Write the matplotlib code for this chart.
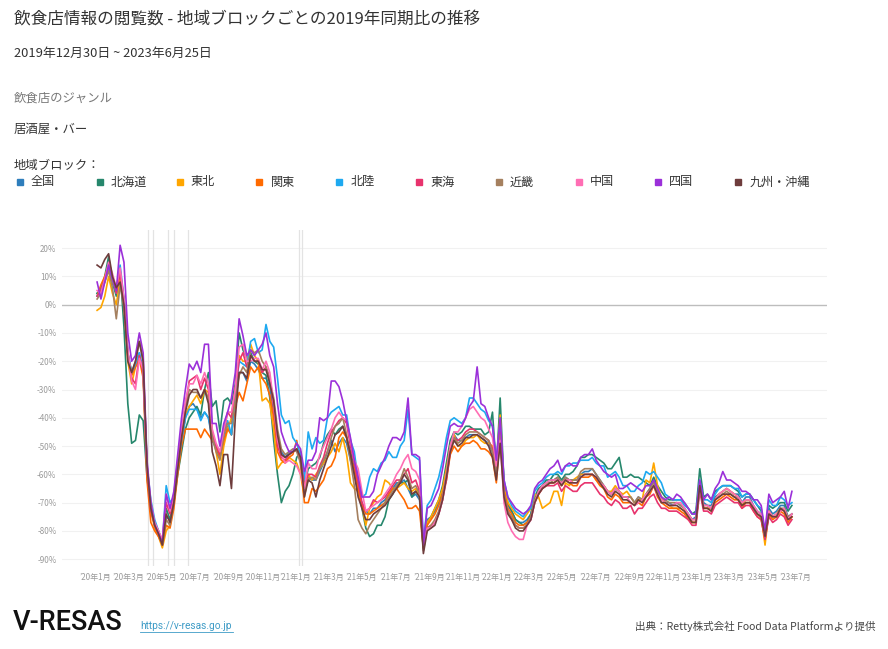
import numpy as np
import pandas as pd
import matplotlib
matplotlib.use('Agg')
import matplotlib.pyplot as plt
import matplotlib.dates as mdates
from matplotlib.patches import Rectangle

plt.rcParams['font.family'] = ['Noto Sans CJK JP', 'DejaVu Sans']

# weekly points (week ending dates), 2019-12-30 ~ 2023-06-25
weeks = pd.date_range('2020-01-05', periods=182, freq='7D')

regions = ['全国', '北海道', '東北', '関東', '北陸', '東海', '近畿', '中国', '四国', '九州・沖縄']
colors = ['#2e7ebc', '#26876c', '#ffa600', '#ff6a00', '#1ea9f0',
          '#e8336d', '#a5805f', '#ff6eb4', '#9b30d9', '#6e3c3c']

zenkoku = [4, 6, 9, 14, 8, 4, 11, 1, -17, -24,
           -21, -17, -25, -58, -72, -78, -81, -85, -75, -76,
           -69, -58, -49, -40, -36, -35, -37, -40, -38, -40,
           -48, -51, -54, -48, -43, -46, -34, -24, -24, -27,
           -20, -21, -23, -26, -26, -29, -38, -49, -52, -54,
           -52, -52, -51, -55, -66, -61, -62, -62, -59, -56,
           -52, -48, -52, -49, -47, -49, -55, -60, -66, -70,
           -73, -74, -72, -72, -70, -69, -67, -65, -63, -63,
           -62, -65, -68, -67, -69, -86, -76, -75, -73, -70,
           -66, -60, -50, -46, -48, -48, -47, -46, -46, -46,
           -47, -48, -49, -52, -59, -43, -65, -71, -73, -76,
           -77, -77, -76, -74, -68, -66, -64, -63, -62, -62,
           -61, -63, -61, -62, -62, -62, -60, -59, -59, -58,
           -60, -62, -64, -66, -67, -65, -66, -68, -68, -68,
           -70, -68, -69, -67, -65, -62, -66, -68, -70, -70,
           -71, -70, -71, -72, -74, -76, -75, -63, -70, -71,
           -71, -68, -67, -66, -65, -66, -67, -67, -70, -68,
           -68, -71, -73, -74, -82, -72, -74, -73, -71, -71,
           -75, -74]

hokkaido = [4, 5, 10, 17, 8, 3, 12, -8, -35, -49,
            -48, -39, -41, -61, -72, -77, -80, -84, -72, -76,
            -70, -60, -52, -44, -40, -38, -36, -39, -30, -24,
            -36, -34, -45, -34, -33, -35, -28, -10, -16, -19,
            -17, -20, -21, -24, -25, -33, -48, -60, -70, -66,
            -64, -60, -54, -52, -64, -58, -57, -56, -54, -49,
            -46, -44, -46, -44, -43, -47, -52, -58, -66, -72,
            -79, -82, -81, -78, -78, -75, -69, -67, -64, -63,
            -63, -62, -68, -66, -65, -86, -77, -75, -72, -69,
            -64, -56, -48, -45, -46, -45, -43, -43, -44, -44,
            -44, -46, -45, -38, -58, -33, -63, -70, -73, -76,
            -77, -78, -77, -74, -68, -65, -64, -62, -62, -60,
            -60, -62, -60, -60, -59, -57, -54, -54, -53, -53,
            -54, -55, -56, -58, -58, -56, -54, -61, -61, -60,
            -61, -61, -62, -63, -64, -61, -64, -66, -68, -69,
            -69, -69, -69, -70, -72, -74, -73, -58, -68, -67,
            -69, -66, -65, -64, -64, -64, -65, -66, -68, -67,
            -67, -69, -71, -73, -81, -71, -72, -71, -70, -70,
            -73, -71]

tohoku = [-2, -1, 3, 10, 4, 0, 9, 0, -20, -28,
          -22, -19, -24, -58, -73, -79, -82, -86, -80, -78,
          -70, -58, -48, -39, -36, -34, -32, -35, -30, -31,
          -45, -52, -60, -50, -44, -40, -30, -18, -20, -20,
          -14, -18, -20, -34, -33, -35, -44, -58, -56, -55,
          -54, -55, -56, -60, -68, -60, -62, -60, -58, -56,
          -54, -52, -49, -52, -47, -53, -63, -65, -66, -71,
          -78, -72, -70, -68, -67, -62, -63, -65, -65, -64,
          -63, -65, -66, -65, -68, -86, -77, -75, -72, -69,
          -65, -58, -50, -46, -50, -50, -48, -47, -47, -46,
          -48, -49, -49, -50, -57, -39, -64, -70, -72, -74,
          -75, -76, -74, -72, -67, -68, -72, -71, -70, -66,
          -66, -71, -63, -64, -62, -61, -60, -60, -60, -60,
          -62, -63, -64, -66, -66, -64, -66, -67, -66, -68,
          -70, -69, -69, -62, -63, -56, -64, -68, -70, -71,
          -72, -72, -72, -73, -75, -77, -77, -63, -72, -72,
          -72, -69, -67, -66, -65, -66, -67, -68, -71, -69,
          -69, -72, -74, -75, -85, -73, -75, -74, -72, -73,
          -76, -75]

kanto = [3, 7, 10, 14, 8, 5, 12, 2, -18, -25,
         -22, -19, -26, -62, -77, -80, -82, -85, -78, -79,
         -72, -60, -50, -44, -44, -44, -44, -47, -44, -46,
         -48, -50, -54, -48, -44, -46, -36, -31, -34, -28,
         -22, -24, -22, -26, -28, -32, -40, -52, -55, -56,
         -54, -53, -48, -56, -70, -70, -65, -66, -64, -62,
         -58, -57, -54, -47, -45, -47, -54, -58, -65, -71,
         -74, -74, -73, -72, -71, -70, -67, -65, -65, -67,
         -69, -72, -72, -71, -73, -86, -78, -76, -74, -71,
         -67, -62, -53, -50, -52, -50, -49, -49, -48, -49,
         -51, -51, -52, -54, -63, -46, -66, -72, -74, -77,
         -78, -78, -77, -75, -70, -67, -65, -64, -63, -63,
         -62, -64, -62, -63, -64, -64, -61, -61, -61, -60,
         -62, -64, -65, -68, -69, -67, -68, -70, -70, -70,
         -71, -70, -71, -68, -67, -64, -68, -70, -71, -72,
         -72, -72, -73, -74, -76, -77, -77, -64, -72, -72,
         -73, -70, -69, -68, -67, -68, -69, -69, -72, -70,
         -70, -73, -75, -76, -83, -74, -76, -75, -73, -74,
         -77, -75]

hokuriku = [3, 5, 8, 13, 9, 4, 14, 2, -17, -24,
            -21, -17, -23, -57, -69, -76, -80, -84, -64, -70,
            -68, -57, -48, -40, -37, -37, -37, -41, -38, -40,
            -46, -50, -52, -46, -41, -46, -32, -20, -21, -22,
            -13, -12, -17, -16, -7, -13, -15, -26, -39, -42,
            -41, -47, -49, -53, -62, -45, -51, -47, -49, -48,
            -40, -38, -37, -36, -39, -39, -48, -52, -62, -68,
            -67, -61, -58, -59, -56, -55, -52, -54, -54, -50,
            -48, -37, -53, -54, -55, -84, -71, -69, -65, -61,
            -55, -47, -41, -40, -41, -42, -40, -33, -33, -35,
            -37, -38, -41, -43, -55, -42, -62, -68, -71, -73,
            -74, -75, -73, -72, -66, -64, -63, -61, -60, -60,
            -59, -60, -57, -57, -56, -56, -55, -55, -55, -54,
            -56, -57, -57, -61, -60, -59, -61, -64, -64, -66,
            -66, -64, -63, -59, -60, -59, -61, -63, -67, -68,
            -69, -69, -69, -71, -72, -74, -74, -62, -69, -69,
            -70, -67, -65, -64, -64, -64, -65, -65, -68, -67,
            -67, -69, -71, -72, -81, -69, -71, -71, -68, -69,
            -71, -70]

tokai = [3, 5, 9, 14, 10, 4, 12, 1, -17, -26,
         -28, -18, -24, -58, -73, -78, -81, -84, -70, -74,
         -68, -56, -46, -36, -27, -26, -25, -30, -26, -30,
         -45, -50, -53, -45, -38, -40, -30, -20, -17, -22,
         -18, -20, -20, -24, -22, -26, -36, -50, -54, -55,
         -53, -52, -51, -55, -64, -60, -60, -61, -57, -54,
         -49, -45, -43, -41, -40, -42, -50, -56, -63, -70,
         -73, -72, -69, -70, -69, -68, -66, -64, -62, -62,
         -60, -58, -63, -62, -66, -85, -79, -78, -77, -74,
         -69, -62, -52, -47, -48, -47, -45, -44, -44, -45,
         -46, -47, -48, -51, -60, -45, -67, -73, -76, -78,
         -79, -79, -78, -76, -70, -67, -65, -64, -64, -64,
         -63, -66, -64, -65, -66, -66, -64, -63, -63, -63,
         -65, -67, -68, -70, -71, -69, -70, -72, -72, -71,
         -74, -72, -72, -70, -68, -67, -70, -72, -72, -73,
         -73, -73, -74, -75, -76, -78, -78, -66, -73, -73,
         -74, -71, -70, -69, -68, -69, -70, -70, -72, -71,
         -71, -73, -75, -76, -83, -75, -77, -76, -74, -75,
         -78, -76]

kinki = [2, 4, 8, 12, 6, -5, 7, -1, -18, -24,
         -20, -13, -20, -56, -72, -78, -81, -85, -76, -78,
         -70, -58, -47, -37, -30, -31, -31, -33, -30, -33,
         -47, -52, -55, -46, -42, -42, -34, -25, -22, -24,
         -16, -17, -16, -20, -22, -27, -33, -44, -51, -53,
         -52, -51, -52, -56, -66, -62, -61, -62, -58, -55,
         -52, -47, -43, -42, -40, -46, -55, -64, -76, -79,
         -81, -78, -76, -74, -72, -70, -68, -66, -64, -62,
         -58, -61, -65, -64, -67, -87, -79, -78, -76, -73,
         -68, -60, -50, -47, -49, -48, -46, -45, -45, -45,
         -46, -47, -48, -52, -60, -46, -67, -73, -75, -78,
         -79, -79, -78, -75, -69, -66, -64, -63, -63, -62,
         -61, -63, -61, -62, -62, -62, -59, -58, -58, -58,
         -60, -62, -64, -66, -67, -65, -66, -68, -68, -68,
         -70, -68, -69, -67, -65, -63, -66, -68, -69, -70,
         -70, -70, -71, -72, -74, -76, -76, -64, -71, -71,
         -72, -69, -68, -67, -66, -67, -68, -68, -70, -69,
         -69, -72, -74, -75, -82, -73, -75, -74, -72, -72,
         -75, -74]

chugoku = [5, 4, 9, 15, 11, 6, 13, 2, -16, -27,
           -30, -19, -23, -57, -70, -77, -80, -83, -67, -73,
           -67, -55, -44, -34, -28, -28, -25, -28, -24, -28,
           -44, -49, -52, -44, -38, -38, -30, -15, -14, -20,
           -20, -19, -19, -23, -20, -24, -35, -48, -53, -56,
           -55, -56, -57, -60, -65, -56, -58, -58, -53, -50,
           -47, -44, -40, -38, -40, -41, -48, -55, -58, -66,
           -73, -72, -71, -70, -69, -67, -65, -63, -60, -58,
           -55, -53, -58, -59, -62, -85, -79, -79, -77, -74,
           -69, -60, -50, -45, -45, -43, -40, -37, -36, -38,
           -40, -41, -44, -47, -57, -48, -70, -77, -80, -82,
           -83, -83, -78, -76, -70, -66, -64, -63, -62, -62,
           -62, -63, -62, -62, -63, -63, -61, -60, -60, -60,
           -61, -63, -64, -66, -67, -65, -66, -68, -68, -70,
           -71, -70, -69, -67, -66, -64, -67, -69, -70, -71,
           -71, -70, -70, -72, -74, -76, -76, -65, -71, -71,
           -72, -69, -67, -66, -65, -66, -67, -68, -70, -69,
           -69, -71, -73, -74, -82, -73, -75, -74, -73, -72,
           -76, -74]

shikoku = [8, 2, 8, 14, 9, 5, 21, 15, -10, -20,
           -18, -10, -17, -55, -70, -78, -81, -84, -67, -72,
           -66, -53, -40, -30, -21, -23, -20, -24, -14, -14,
           -42, -42, -50, -42, -38, -33, -24, -5, -11, -18,
           -16, -18, -16, -14, -10, -18, -22, -35, -45, -49,
           -52, -52, -49, -51, -59, -55, -55, -52, -40, -41,
           -40, -27, -27, -29, -34, -41, -47, -55, -61, -68,
           -68, -68, -66, -60, -57, -54, -50, -47, -47, -48,
           -45, -33, -53, -53, -54, -85, -72, -71, -68, -65,
           -58, -50, -43, -42, -43, -43, -40, -36, -34, -22,
           -35, -36, -40, -43, -55, -40, -62, -68, -70, -72,
           -73, -74, -73, -71, -65, -63, -62, -60, -58, -57,
           -55, -59, -57, -56, -57, -57, -54, -53, -53, -51,
           -55, -57, -59, -60, -61, -60, -65, -65, -64, -63,
           -64, -65, -66, -64, -64, -62, -65, -68, -69, -68,
           -69, -67, -68, -70, -72, -74, -74, -62, -69, -67,
           -69, -65, -63, -59, -62, -62, -63, -64, -66, -66,
           -67, -69, -69, -71, -80, -67, -70, -69, -68, -66,
           -72, -66]

kyushu = [14, 13, 16, 18, 10, 6, 8, 0, -20, -24,
          -20, -13, -20, -57, -72, -78, -81, -85, -74, -77,
          -70, -58, -47, -38, -32, -30, -30, -33, -30, -35,
          -52, -57, -64, -53, -53, -65, -40, -24, -24, -26,
          -18, -20, -20, -23, -23, -28, -34, -46, -53, -54,
          -53, -52, -51, -54, -68, -62, -63, -68, -62, -58,
          -54, -50, -46, -45, -43, -47, -53, -60, -68, -72,
          -76, -76, -74, -73, -72, -71, -69, -67, -65, -63,
          -60, -62, -67, -66, -68, -88, -80, -79, -78, -74,
          -69, -61, -52, -48, -50, -49, -47, -47, -46, -46,
          -47, -48, -50, -54, -62, -49, -68, -74, -76, -79,
          -80, -80, -78, -76, -70, -67, -65, -64, -63, -63,
          -62, -64, -62, -63, -63, -63, -61, -60, -60, -60,
          -61, -63, -65, -67, -68, -66, -67, -69, -69, -70,
          -71, -69, -70, -68, -66, -64, -67, -70, -70, -71,
          -71, -71, -72, -73, -75, -77, -77, -64, -72, -72,
          -73, -69, -68, -67, -67, -67, -68, -69, -71, -70,
          -70, -72, -74, -75, -82, -74, -75, -75, -72, -73,
          -76, -75]

series = [zenkoku, hokkaido, tohoku, kanto, hokuriku,
          tokai, kinki, chugoku, shikoku, kyushu]

# state of emergency related dates (vertical lines)
event_dates = ['2020-04-07', '2020-04-16', '2020-05-14', '2020-05-25',
               '2020-06-19', '2021-01-07', '2021-01-13']

W, H = 888, 649
fig = plt.figure(figsize=(W / 100, H / 100), dpi=100)

def fx(px):
    return px / W

def fy(py):
    return 1 - py / H

# header texts
fig.text(fx(14), fy(19), '飲食店情報の閲覧数 - 地域ブロックごとの2019年同期比の推移',
         fontsize=12, color='#333333', va='center')
fig.text(fx(14), fy(53), '2019年12月30日 ~ 2023年6月25日',
         fontsize=9.3, color='#333333', va='center')
fig.text(fx(14), fy(98), '飲食店のジャンル', fontsize=8.9, color='#777777', va='center')
fig.text(fx(14), fy(129), '居酒屋・バー', fontsize=8.9, color='#333333', va='center')
fig.text(fx(14), fy(165), '地域ブロック：', fontsize=8.9, color='#333333', va='center')

# legend
for i, (name, c) in enumerate(zip(regions, colors)):
    x0 = 17 + i * 79.8
    fig.patches.append(Rectangle((fx(x0), fy(185)), 6 / W, 6 / H,
                                 transform=fig.transFigure, color=c, figure=fig))
    fig.text(fx(x0 + 14), fy(182), name, fontsize=8.7, color='#333333', va='center')

# chart
ax = fig.add_axes([fx(62), fy(566), (827 - 62) / W, (566 - 230) / H])
for y in range(-90, 21, 10):
    if y == 0:
        continue
    ax.axhline(y, color='#f1f1f1', lw=0.8, zorder=0)
ax.axhline(0, color='#bdbdbd', lw=1.0, zorder=1)
for d in event_dates:
    ax.axvline(pd.Timestamp(d), color='#e3e3e3', lw=0.9, zorder=0)

for name, vals, c in zip(regions, series, colors):
    ax.plot(weeks, vals, color=c, lw=1.2, label=name, zorder=2)

ax.set_xlim(pd.Timestamp('2019-11-02'), pd.Timestamp('2023-08-28'))
ax.set_ylim(-92.4, 26.4)
ax.set_yticks(range(-90, 21, 10))
ax.set_yticklabels([f'{v}%' for v in range(-90, 21, 10)])

xt = pd.date_range('2020-01-01', '2023-07-01', freq='2MS')
ax.set_xticks(xt)
ax.set_xticklabels([f'’{d.year % 100:02d}年{d.month}月' for d in xt])
ax.tick_params(length=0, labelsize=5.8, labelcolor='#9a9a9a')
ax.tick_params(axis='y', pad=4)
ax.tick_params(axis='x', pad=5)
for s in ax.spines.values():
    s.set_visible(False)

# footer
fig.text(fx(13), fy(622), 'V-RESAS', fontsize=19.5, color='#111111', va='center',
         family=['Roboto', 'DejaVu Sans'], fontweight='medium')
fig.text(fx(140), fy(626), 'https://v-resas.go.jp', fontsize=7.3, color='#3d9bc6',
         va='center', family=['Roboto', 'DejaVu Sans'])
fig.add_artist(plt.Line2D([fx(140), fx(233)], [fy(632), fy(632)], color='#3d9bc6', lw=0.6))
fig.text(fx(875), fy(626), '出典：Retty株式会社 Food Data Platformより提供',
         fontsize=7.6, color='#444444', va='center', ha='right')

fig.savefig('out.png', dpi=100, facecolor='white')
